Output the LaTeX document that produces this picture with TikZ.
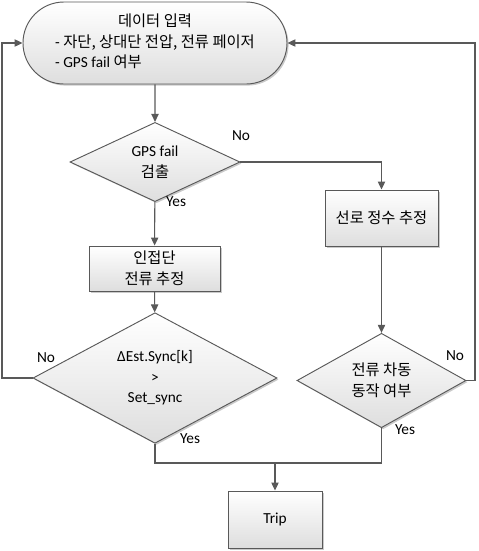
\documentclass[tikz,border=0pt]{standalone}
\usepackage{fontspec}
\setmainfont{Carlito}
\newfontfamily\krfont{Noto Sans CJK KR}
\usetikzlibrary{shapes.geometric,shapes.misc,arrows.meta,shadows}
\begin{document}
\begin{tikzpicture}[
        x=0.75pt, y=-0.75pt,
        box/.style={draw=black!65, line width=0.7pt, top color=white, bottom color=black!13, drop shadow={shadow xshift=1.2pt, shadow yshift=-1.2pt, fill=black!35, opacity=0.6}, font=\fontsize{11.5}{15.5}\selectfont, align=center},
        terminal/.style={box, rounded rectangle, minimum width=198pt, minimum height=61.5pt, inner sep=0pt},
        proc/.style={box, rectangle, inner sep=0pt},
        decision/.style={box, diamond, inner sep=0pt},
        arrow/.style={-{Triangle[length=6pt, width=5.5pt]}, draw=black!65, line width=0.8pt},
        link/.style={draw=black!65, line width=0.8pt},
        lbl/.style={font=\fontsize{11.5}{13}\selectfont}
    ]
        \useasboundingbox (0,0) rectangle (479,551);

        % Input data
        \node[terminal] (start) at (155,43) {\begin{tabular}{@{}l@{}}\multicolumn{1}{@{}c@{}}{\krfont 데이터 입력}\\- {\krfont 자단, 상대단 전압, 전류 페이저}\\- GPS fail {\krfont 여부}\end{tabular}};

        % Decisions and processes
        \node[decision, minimum width=127.5pt, minimum height=41.25pt] (gps) at (155,162) {GPS fail\\{\krfont 검출}};
        \node[proc, minimum width=84.75pt, minimum height=42pt] (lineest) at (381.5,218) {\krfont 선로 정수 추정};
        \node[proc, minimum width=98.25pt, minimum height=33.75pt] (adjest) at (154.5,268.5) {\krfont 인접단\\\krfont 전류 추정};
        \node[decision, minimum width=183pt, minimum height=84pt] (sync) at (155,378) {ΔEst.Sync[k]\\>\\Set\_sync};
        \node[decision, minimum width=126.75pt, minimum height=53.25pt] (diff) at (381.5,380.5) {\krfont 전류 차동\\\krfont 동작 여부};
        \node[proc, minimum width=70.5pt, minimum height=42.75pt] (trip) at (275,519.5) {Trip};

        % Branch labels
        \node[lbl] (no_gps) at (241,136) {No};
        \node[lbl] (yes_gps) at (176,202) {Yes};
        \node[lbl] (no_sync) at (46,358) {No};
        \node[lbl] (yes_sync) at (190,439) {Yes};
        \node[lbl] (no_diff) at (455,356) {No};
        \node[lbl] (yes_diff) at (405,430) {Yes};

        % Turning points
        \coordinate (loop_l) at (2,43);
        \coordinate (loop_r) at (475,43);
        \coordinate (merge) at (275,463);

        % Connections
        \draw[arrow] (start) -- (gps);
        \draw[arrow] (gps.east) -| (lineest);
        \draw[arrow] (gps) -- (adjest);
        \draw[arrow] (adjest) -- (sync);
        \draw[arrow] (lineest) -- (diff);
        \draw[arrow] (sync.west) -| (loop_l) -- (start.west);
        \draw[arrow] (diff.east) -| (loop_r) -- (start.east);
        \draw[link] (sync.south) |- (merge);
        \draw[link] (diff.south) |- (merge);
        \draw[arrow] (merge) -- (trip);
    \end{tikzpicture}
\end{document}
